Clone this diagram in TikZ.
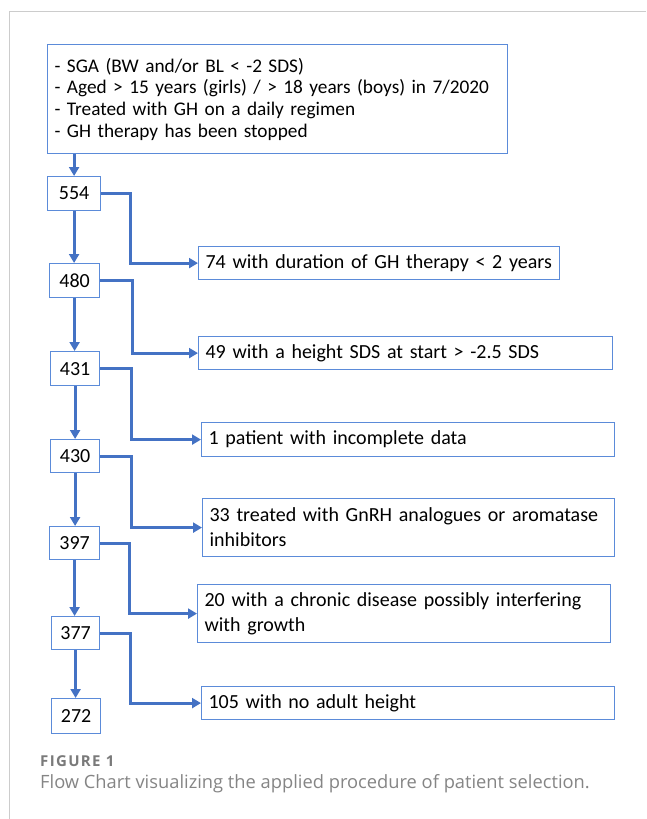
\documentclass[tikz,border=0pt]{standalone}
\usepackage{fontspec}
\setmainfont{Carlito}[WordSpace=0.65]
\newfontfamily\capfont{Open Sans}
\newfontfamily\figfont{Open Sans}[LetterSpace=9]
\usetikzlibrary{arrows.meta}
\definecolor{cblue}{HTML}{4472C4}
\definecolor{bblue}{HTML}{5B8BD9}
\definecolor{capgray}{HTML}{858585}
\definecolor{figgray}{HTML}{7A7A7A}
\definecolor{framegray}{HTML}{CCCCCC}
\tikzset{
  box/.style={draw=bblue, line width=1.2pt, fill=white, inner xsep=7pt, inner ysep=0pt,
    anchor=north west, align=left},
  numbox/.style={draw=bblue, line width=1.2pt, fill=white, inner sep=0pt,
    anchor=north west, align=center},
  conn/.style={cblue, line width=3pt, -{Triangle[length=9pt,width=10pt]}},
  captxt/.style={anchor=west, inner sep=0pt, text=capgray}
}
\begin{document}
\begin{tikzpicture}[x=1pt,y=-1pt,font=\fontsize{20}{24}\selectfont]
\useasboundingbox (0,0) rectangle (646,819);
\fill[white] (0,0) rectangle (646,819);
\draw[framegray, line width=1pt] (9,819) -- (9,11) -- (646,11);

% main box
\node[box, minimum width=460pt, minimum height=109pt, text width=446pt,
      font=\fontsize{19.3}{21.7}\selectfont] (top) at (47,44)
  {\mbox{- SGA (BW and/or BL < -2 SDS)}\\
   \mbox{- Aged > 15 years (girls) / > 18 years (boys) in 7/2020}\\
   \mbox{- Treated with GH on a daily regimen}\\
   \mbox{- GH therapy has been stopped}};

% number boxes
\node[numbox, minimum width=53pt, minimum height=34pt] (n554) at (47,176) {554};
\node[numbox, minimum width=50pt, minimum height=34pt] (n480) at (49,263) {480};
\node[numbox, minimum width=49pt, minimum height=34pt] (n431) at (50,351) {431};
\node[numbox, minimum width=49pt, minimum height=33pt] (n430) at (50,439) {430};
\node[numbox, minimum width=50pt, minimum height=33pt] (n397) at (49,526) {397};
\node[numbox, minimum width=48pt, minimum height=33pt] (n377) at (51,616) {377};
\node[numbox, minimum width=49pt, minimum height=35pt] (n272) at (51,698) {272};

% exclusion boxes
\node[box, minimum width=361pt, minimum height=33pt, text width=347pt] (e1) at (198,246)
  {74 with duration of GH therapy < 2 years};
\node[box, minimum width=414pt, minimum height=33pt, text width=400pt] (e2) at (198,336)
  {49 with a height SDS at start > -2.5 SDS};
\node[box, minimum width=413pt, minimum height=34pt, text width=399pt] (e3) at (201,422)
  {1 patient with incomplete data};
\node[box, minimum width=412pt, minimum height=58pt, text width=398pt,
      font=\fontsize{20}{25}\selectfont] (e4) at (202,498)
  {33 treated with GnRH analogues or aromatase\\inhibitors};
\node[box, minimum width=413pt, minimum height=58pt, text width=399pt,
      font=\fontsize{20}{25}\selectfont] (e5) at (197,584)
  {20 with a chronic disease possibly interfering\\with growth};
\node[box, minimum width=413pt, minimum height=33pt, text width=399pt] (e6) at (201,686)
  {105 with no adult height};

% vertical flow
\draw[conn] (n554.north |- top.south) -- (n554.north);
\draw[conn] (n554.south) -- (n554.south |- n480.north);
\draw[conn] (n480.south) -- (n480.south |- n431.north);
\draw[conn] (n431.south) -- (n431.south |- n430.north);
\draw[conn] (n430.south) -- (n430.south |- n397.north);
\draw[conn] (n397.south) -- (n397.south |- n377.north);
\draw[conn] (n377.south) -- (n377.south |- n272.north);

% exclusions
\draw[conn] (n554.east) -- ++(29,0) |- (e1.west);
\draw[conn] (n480.east) -- ++(32,0) |- (e2.west);
\draw[conn] (n431.east) -- ++(31,0) |- (e3.west);
\draw[conn] (n430.east) -- ++(31,0) |- (e4.west);
\draw[conn] (n397.east) -- ++(29,0) |- (e5.west);
\draw[conn] (n377.east) -- ++(30,0) |- (e6.west);

% caption
\node[captxt, text=figgray, font=\figfont\fontsize{15}{17}\selectfont\bfseries] (fig) at (40,761) {FIGURE 1};
\node[captxt, font=\capfont\fontsize{18.3}{20}\selectfont] (cap) at (40,784)
  {Flow Chart visualizing the applied procedure of patient selection.};
\end{tikzpicture}
\end{document}
